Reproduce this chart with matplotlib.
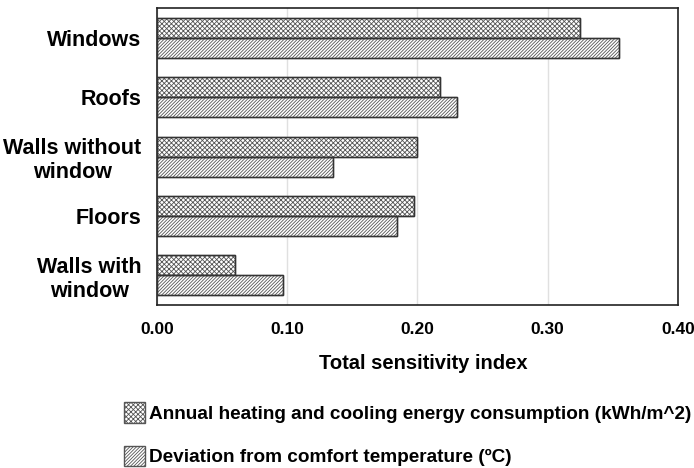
import matplotlib
matplotlib.use("Agg")
import matplotlib.pyplot as plt
import numpy as np

categories = ["Windows", "Roofs", "Walls without\nwindow", "Floors", "Walls with\nwindow"]
energy = [0.325, 0.217, 0.200, 0.197, 0.060]
deviation = [0.355, 0.230, 0.135, 0.184, 0.097]
series_labels = ["Annual heating and cooling energy consumption (kWh/m^2)",
                 "Deviation from comfort temperature (ºC)"]
xticks = [0.0, 0.1, 0.2, 0.3, 0.4]
xlabel = "Total sensitivity index"

plt.rcParams['font.family'] = ['Liberation Sans', 'DejaVu Sans']
plt.rcParams['font.weight'] = 'bold'
plt.rcParams['hatch.linewidth'] = 0.6

fig = plt.figure(figsize=(6.94, 4.68), dpi=100)
ax = fig.add_axes([0.226, 0.348, 0.751, 0.635])

y = np.arange(len(categories))
h = 0.336
b1 = ax.barh(y - h / 2, energy, height=h, facecolor='white', edgecolor='#555555',
             hatch='xxxxxxx', linewidth=1.0, label=series_labels[0], zorder=2)
b2 = ax.barh(y + h / 2, deviation, height=h, facecolor='white', edgecolor='#555555',
             hatch='//////////', linewidth=1.0, label=series_labels[1], zorder=2)
# dark outlines
ax.barh(y - h / 2, energy, height=h, fill=False, edgecolor='#333333', linewidth=1.0, zorder=3)
ax.barh(y + h / 2, deviation, height=h, fill=False, edgecolor='#333333', linewidth=1.0, zorder=3)

ax.set_ylim(len(categories) - 0.5, -0.5)
ax.set_xlim(0, 0.4)
ax.set_xticks(xticks)
ax.set_xticklabels([f"{v:.2f}" for v in xticks], fontsize=12.5, fontweight='bold')
ax.set_yticks(y)
ax.set_yticklabels(categories, fontsize=15.5, fontweight='bold', multialignment='center')
ax.tick_params(axis='x', length=0, pad=12)
ax.tick_params(axis='y', length=0, pad=11)
ax.xaxis.grid(True, color='#e0e0e0', linewidth=1.0, zorder=0)
ax.set_axisbelow(True)
for s in ax.spines.values():
    s.set_color('#222222')
    s.set_linewidth(1.2)
ax.set_xlabel(xlabel, fontsize=14.5, fontweight='bold')
ax.xaxis.set_label_coords(0.511, -0.165)

fig.legend(handles=[b1, b2], labels=series_labels, loc='upper left',
           bbox_to_anchor=(0.167, 0.157), frameon=False, fontsize=13.7,
           handlelength=1.15, handleheight=1.3, handletextpad=0.2, labelspacing=1.2,
           borderaxespad=0)

fig.savefig("out.png", dpi=100)
